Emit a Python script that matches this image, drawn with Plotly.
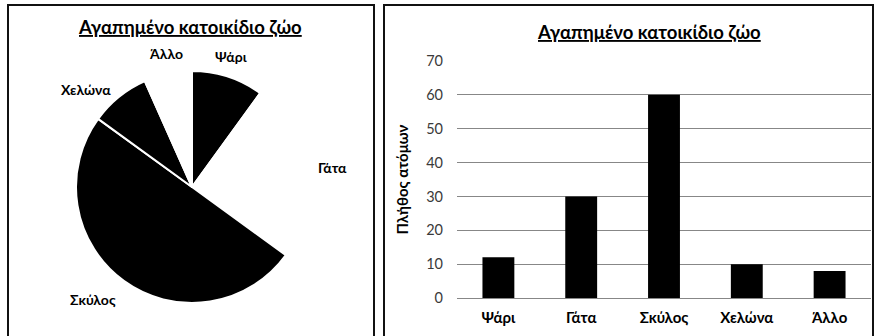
import math
import plotly.graph_objects as go

# Favourite pet survey
categories = ["Ψάρι", "Γάτα", "Σκύλος", "Χελώνα", "Άλλο"]
counts = [12, 30, 60, 10, 8]
slice_colors = ["#000000", "#ffffff", "#000000", "#000000", "#ffffff"]
y_ticks = [0, 10, 20, 30, 40, 50, 60, 70]
title_text = "Αγαπημένο κατοικίδιο ζώο"
y_title = "Πλήθος ατόμων"

W, H = 879, 336
FONT = "Lato, 'Open Sans', sans-serif"

def px_x(v):
    return v / W

def px_y(v):
    return 1 - v / H

fig = go.Figure()

# Pie panel geometry (pixels)
cx, cy, r = 192, 187, 116
pie_dom_x = [px_x(cx - r), px_x(cx + r)]
pie_dom_y = [px_y(cy + r), px_y(cy - r)]

fig.add_trace(go.Pie(
    labels=categories,
    values=counts,
    sort=False,
    direction="clockwise",
    rotation=0,
    marker=dict(colors=slice_colors, line=dict(color="#ffffff", width=2)),
    textinfo="none",
    hoverinfo="label+value",
    showlegend=False,
    automargin=False,
    domain=dict(x=pie_dom_x, y=pie_dom_y),
))

# Slice labels placed just outside the pie at each slice's mid-angle
annotations = []
total = sum(counts)
cum = 0
for name, val in zip(categories, counts):
    mid = (cum + val / 2) / total * 2 * math.pi
    cum += val
    s, c = math.sin(mid), math.cos(mid)
    rr = r + 10
    lx = cx + rr * s
    ly = cy - rr * c
    xa = "left" if s > 0.35 else ("right" if s < -0.35 else "center")
    ya = "bottom" if c > 0.8 else ("top" if c < -0.8 else "middle")
    annotations.append(dict(
        x=px_x(lx), y=px_y(ly), xref="paper", yref="paper",
        text=f"<b>{name}</b>", showarrow=False, xanchor=xa, yanchor=ya,
        font=dict(family=FONT, size=14, color="#000000"),
    ))

# Column chart
fig.add_trace(go.Bar(
    x=categories,
    y=counts,
    marker=dict(color="#000000", line=dict(width=0)),
    xaxis="x",
    yaxis="y",
    showlegend=False,
    hoverinfo="x+y",
))

# Panel titles
for tx, ty in [(190, 27), (649, 32)]:
    annotations.append(dict(
        x=px_x(tx), y=px_y(ty), xref="paper", yref="paper",
        text=f"<b><span style='text-decoration:underline'>{title_text}</span></b>",
        showarrow=False, xanchor="center", yanchor="middle",
        font=dict(family=FONT, size=18.5, color="#000000"),
    ))

# Panel frames
shapes = []
for x0, x1 in [(8, 374), (384, 873)]:
    shapes.append(dict(
        type="rect", xref="paper", yref="paper",
        x0=px_x(x0), x1=px_x(x1), y0=-0.05, y1=px_y(5),
        line=dict(color="#111111", width=2), fillcolor="rgba(0,0,0,0)",
    ))

fig.update_layout(
    width=W, height=H,
    margin=dict(l=0, r=0, t=0, b=0, autoexpand=False),
    paper_bgcolor="#ffffff",
    plot_bgcolor="#ffffff",
    bargap=0.615,
    xaxis=dict(
        domain=[px_x(457), px_x(871)],
        anchor="y",
        automargin=False,
        showgrid=False,
        showline=False,
        ticks="",
        tickfont=dict(family=FONT, size=15, color="#000000", weight="bold"),
        ticklabelstandoff=9,
    ),
    yaxis=dict(
        domain=[px_y(298), px_y(61)],
        anchor="x",
        automargin=False,
        range=[0, 70],
        tickvals=y_ticks,
        showgrid=True,
        gridcolor="#878787",
        gridwidth=1,
        zeroline=True,
        zerolinecolor="#878787",
        zerolinewidth=1,
        showline=False,
        ticks="",
        ticklabelstandoff=13,
        tickfont=dict(family=FONT, size=14.5, color="#3a3a3a"),
        title=dict(text=f"<b>{y_title}</b>", standoff=13,
                   font=dict(family=FONT, size=15, color="#000000")),
    ),
    annotations=annotations,
    shapes=shapes,
)

fig.write_html("out.html")
